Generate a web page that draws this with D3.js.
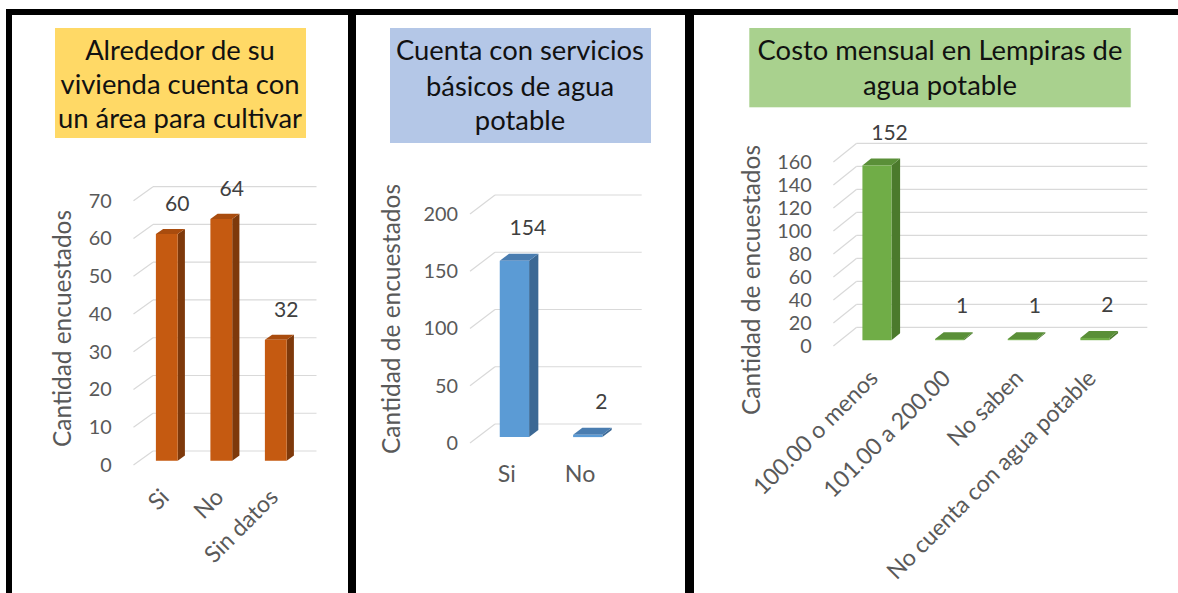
<!DOCTYPE html>
<html><head><meta charset="utf-8">
<script src="https://cdn.jsdelivr.net/npm/d3@7"></script>
<style>body{margin:0;background:#fff}svg{display:block}</style>
</head><body>
<svg id="c" width="1178" height="593"></svg>
<script>
// ---------- data ----------
const cultivoTitle = ["Alrededor de su", "vivienda cuenta con", "un área para cultivar"];
const cultivoCategories = ["Si", "No", "Sin datos"];
const cultivoValues = [60, 64, 32];
const cultivoTicks = [0, 10, 20, 30, 40, 50, 60, 70];
const cultivoAxisTitle = "Cantidad encuestados";

const aguaTitle = ["Cuenta con servicios", "básicos de agua", "potable"];
const aguaCategories = ["Si", "No"];
const aguaValues = [154, 2];
const aguaTicks = [0, 50, 100, 150, 200];
const aguaAxisTitle = "Cantidad de encuestados";

const costoTitle = ["Costo mensual en Lempiras de", "agua potable"];
const costoCategories = ["100.00 o menos", "101.00 a 200.00", "No saben", "No cuenta con agua potable"];
const costoValues = [152, 1, 1, 2];
const costoTicks = [0, 20, 40, 60, 80, 100, 120, 140, 160];
const costoAxisTitle = "Cantidad de encuestados";

// ---------- layout ----------
const FONT = "Lato, 'Open Sans', sans-serif";
const svg = d3.select("#c");

function fitSize(text, target) {
  const t = svg.append("text").attr("font-family", FONT).attr("font-size", 100).text(text);
  const w = t.node().getComputedTextLength();
  t.remove();
  return 100 * target / w;
}
const titleSize = fitSize("Costo mensual en Lempiras de", 365);
const axisTitleSize = fitSize("Cantidad de encuestados", 270);
const tickSize = fitSize("160", 34.5);
const valueSize = fitSize("154", 36.7);
const catSize = fitSize("100.00 o menos", 165);

const panels = [
  {title: cultivoTitle, cats: cultivoCategories, vals: cultivoValues, ticks: cultivoTicks, axisTitle: cultivoAxisTitle,
   box: {x: 55, y: 28, w: 251, h: 110}, boxFill: "#FFD966", baselines: [59.5, 94, 128], titleCx: 180,
   wall: {x0: 153, x1: 316.5, y0: 451, yMaxPx: 186.7}, DX: 19.5, DY: 14, tickX: 111.7,
   axisT: {x: 62, y: 328.5}, rotate: true,
   colors: {front: "#C55A11", side: "#7E390B", top: "#A94C0E"}},
  {title: aguaTitle, cats: aguaCategories, vals: aguaValues, ticks: aguaTicks, axisTitle: aguaAxisTitle,
   box: {x: 390, y: 28, w: 261, h: 115}, boxFill: "#B4C7E7", baselines: [60, 96, 130], titleCx: 520,
   wall: {x0: 495, x1: 641.7, y0: 424, yMaxPx: 195}, DX: 25, DY: 19, tickX: 458,
   axisT: {x: 391.7, y: 319}, rotate: false,
   colors: {front: "#5B9BD5", side: "#3B6894", top: "#4A7DB0"}},
  {title: costoTitle, cats: costoCategories, vals: costoValues, ticks: costoTicks, axisTitle: costoAxisTitle,
   box: {x: 749.3, y: 28, w: 381.4, h: 79.3}, boxFill: "#A9D18E", baselines: [60, 95], titleCx: 940,
   wall: {x0: 856.7, x1: 1147.3, y0: 327.3, yMaxPx: 143.3}, DX: 23.3, DY: 18.7, tickX: 811.7,
   axisT: {x: 751.7, y: 280}, rotate: true,
   colors: {front: "#70AD47", side: "#4B7A2C", top: "#5A8F38"}}
];

const T_FRONT = 0.69, T_BACK = 0.32;
const GRID = "#D9D9D9", TXT = "#595959";

panels.forEach(p => {
  const g = svg.append("g");
  // title box
  g.append("rect").attr("x", p.box.x).attr("y", p.box.y).attr("width", p.box.w).attr("height", p.box.h).attr("fill", p.boxFill);
  p.title.forEach((line, i) => {
    g.append("text").attr("x", p.titleCx).attr("y", p.baselines[i]).attr("text-anchor", "middle")
      .attr("font-family", FONT).attr("font-size", titleSize).attr("fill", "#111").text(line);
  });

  const maxV = p.ticks[p.ticks.length - 1];
  const y = d3.scaleLinear().domain([0, maxV]).range([p.wall.y0, p.wall.yMaxPx]);
  const x = d3.scaleBand().domain(p.cats).range([p.wall.x0, p.wall.x1]).paddingInner(0.6).paddingOuter(0.3);
  const pt = (xx, yy, t) => [xx - t * p.DX, yy + t * p.DY];

  // gridlines: back wall + side diagonal
  const grid = g.append("g").attr("stroke", GRID).attr("stroke-width", 1.2).attr("fill", "none");
  p.ticks.forEach(v => {
    const yy = y(v);
    grid.append("line").attr("x1", p.wall.x0).attr("x2", p.wall.x1).attr("y1", yy).attr("y2", yy);
    const f = pt(p.wall.x0, yy, 1);
    grid.append("line").attr("x1", f[0]).attr("y1", f[1]).attr("x2", p.wall.x0).attr("y2", yy);
  });

  // y axis labels (front edge)
  const yFront = d3.scaleLinear().domain([0, maxV]).range([p.wall.y0 + p.DY, p.wall.yMaxPx + p.DY]);
  const ya = g.append("g").attr("transform", `translate(${p.tickX},0)`)
    .call(d3.axisLeft(yFront).tickValues(p.ticks).tickSize(0).tickPadding(0));
  ya.select(".domain").remove();
  ya.selectAll("text").attr("font-family", FONT).attr("font-size", tickSize).attr("fill", TXT);

  // axis title
  g.append("text").attr("transform", `translate(${p.axisT.x},${p.axisT.y}) rotate(-90)`)
    .attr("text-anchor", "middle").attr("dy", "0.35em")
    .attr("font-family", FONT).attr("font-size", axisTitleSize).attr("fill", TXT).text(p.axisTitle);

  // bars
  const poly = pts => pts.map(q => q.join(",")).join(" ");
  p.cats.forEach((c, i) => {
    const v = p.vals[i];
    const bx0 = x(c), bx1 = x(c) + x.bandwidth();
    const yv = y(v), y0 = y(0);
    const bg = g.append("g");
    bg.append("polygon").attr("fill", p.colors.side)
      .attr("points", poly([pt(bx1, yv, T_FRONT), pt(bx1, yv, T_BACK), pt(bx1, y0, T_BACK), pt(bx1, y0, T_FRONT)]));
    bg.append("polygon").attr("fill", p.colors.top)
      .attr("points", poly([pt(bx0, yv, T_FRONT), pt(bx1, yv, T_FRONT), pt(bx1, yv, T_BACK), pt(bx0, yv, T_BACK)]));
    bg.append("polygon").attr("fill", p.colors.front)
      .attr("points", poly([pt(bx0, yv, T_FRONT), pt(bx1, yv, T_FRONT), pt(bx1, y0, T_FRONT), pt(bx0, y0, T_FRONT)]));
    // value label
    const lp = pt(bx0 + x.bandwidth() / 2, yv, 0.15);
    g.append("text").attr("x", lp[0]).attr("y", lp[1] - 23).attr("dy", "0.35em").attr("text-anchor", "middle")
      .attr("font-family", FONT).attr("font-size", valueSize).attr("fill", "#404040").text(v);
  });

  // category axis (front floor edge)
  const xFront = d3.scaleBand().domain(p.cats).range([p.wall.x0 - p.DX, p.wall.x1 - p.DX]).paddingInner(0.6).paddingOuter(0.3);
  const xa = g.append("g").attr("transform", `translate(0,${p.wall.y0 + p.DY})`)
    .call(d3.axisBottom(xFront).tickSize(0).tickPadding(0));
  xa.select(".domain").remove();
  const xt = xa.selectAll("text").attr("font-family", FONT).attr("font-size", catSize).attr("fill", TXT);
  if (p.rotate) {
    xt.attr("text-anchor", "end").attr("x", 0).attr("y", 0).attr("dy", "0.35em")
      .attr("transform", "translate(4,28) rotate(-45)");
  } else {
    xt.attr("y", 31).attr("dy", "0.35em");
  }
});

// black frame
const frame = svg.append("g").attr("fill", "#000");
frame.append("rect").attr("x", 6).attr("y", 9).attr("width", 1172).attr("height", 6);
frame.append("rect").attr("x", 6).attr("y", 9).attr("width", 6).attr("height", 584);
frame.append("rect").attr("x", 348).attr("y", 9).attr("width", 8).attr("height", 584);
frame.append("rect").attr("x", 685).attr("y", 9).attr("width", 9).attr("height", 584);
</script>
</body></html>
